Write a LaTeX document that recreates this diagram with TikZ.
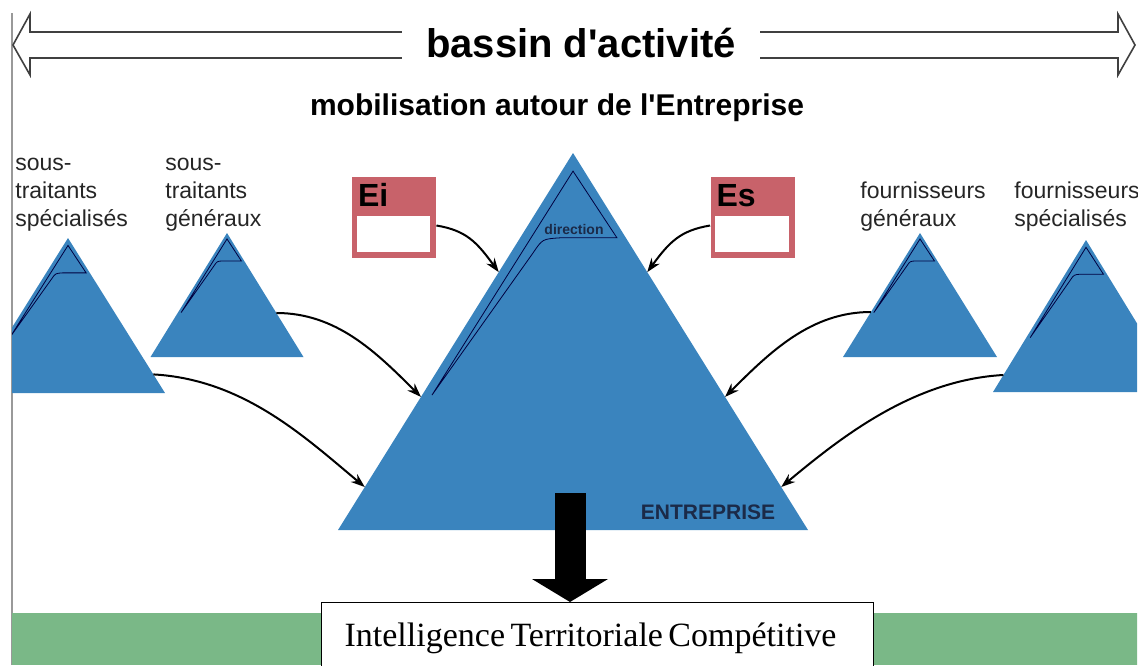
\documentclass[tikz,border=0pt]{standalone}
\usepackage{fontspec}
\setmainfont{Liberation Sans}
\newfontfamily\timesfont{Liberation Serif}
\usetikzlibrary{arrows.meta,calc}

\definecolor{pyrblue}{RGB}{58,132,190}
\definecolor{eired}{RGB}{200,98,106}
\definecolor{vert}{RGB}{122,184,135}
\definecolor{marine}{RGB}{27,42,72}

\tikzset{
  pyr/.style={fill=pyrblue},
  dirline/.style={draw=black!75!blue, line width=0.4pt},
  lien/.style={line width=1pt, -{Stealth[length=7pt,width=5pt]}},
  ebox/.style={fill=eired, minimum width=42pt, minimum height=40.5pt, inner sep=0pt},
  etxt/.style={font=\fontsize{16}{18}\selectfont\bfseries, inner sep=0pt},
  lbl/.style={font=\fontsize{11.5}{14}\selectfont, text=black!85, align=left, inner sep=0pt, anchor=base west},
  bassin/.style={draw=black!75, line width=0.8pt},
}

% pyramide: name, apex x, apex y, half width, height
\newcommand\pyramide[5]{%
  \coordinate (#1-top) at (#2,#3);
  \coordinate (#1-left) at ({#2-#4},{#3+#5});
  \coordinate (#1-right) at ({#2+#4},{#3+#5});
  \fill[pyr] (#1-top) -- (#1-right) -- (#1-left) -- cycle;
  \begin{scope}[shift={(#1-top)}, x={(#4*0.5pt,0pt)}, y={(0pt,-#5*0.5pt)}]
    \draw[dirline] (0,0.048) -- (-0.6,0.642) -- (-0.17,0.265)
      .. controls (-0.13,0.228) .. (-0.055,0.225) -- (0.187,0.225) -- cycle;
  \end{scope}
}

\begin{document}
\begin{tikzpicture}[x=0.5pt,y=-0.5pt]
  \useasboundingbox (0,0) rectangle (1138,665);
  \draw[black!40, line width=0.6pt] (12,13) -- (12,665);

  % bassin d'activite
  \node[font=\fontsize{20}{23}\selectfont\bfseries, inner xsep=12pt, anchor=base] (bassin) at (581,57) {bassin d\textquotesingle activité};
  \draw[bassin] (bassin.west |- 0,32) -- (30,32) -- (30,14) -- (13,45) -- (30,75) -- (30,58) -- (bassin.west |- 0,58);
  \draw[bassin] (bassin.east |- 0,32) -- (1118,32) -- (1118,14) -- (1135,45) -- (1118,75) -- (1118,58) -- (bassin.east |- 0,58);
  \node[font=\fontsize{15}{18}\selectfont\bfseries, anchor=base] (mobil) at (557,115) {mobilisation autour de l\textquotesingle Entreprise};

  \begin{scope}
    \clip (12,0) rectangle (1137,665);
    \fill[vert] (0,613) rectangle (1138,665);
    \pyramide{stspe}{68}{238}{97}{155}
    \pyramide{stgen}{227}{233}{76.5}{124}
    \pyramide{fogen}{920}{233}{77}{124}
    \pyramide{fospe}{1086}{240}{93}{152}
    \pyramide{ent}{573}{153}{235}{377}
    \node[draw, fill=white, line width=0.6pt, anchor=north west, text width=253pt, align=left,
      inner xsep=11.5pt, minimum height=36pt, font=\timesfont\fontsize{17}{19}\selectfont] (itc) at (321,602)
      {\spaceskip=0.16em\relax Intelligence Territoriale Compétitive};
  \end{scope}

  \node[font=\fontsize{7}{8}\selectfont\bfseries, text=marine, inner sep=0pt] (dir) at (574,229) {direction};
  \node[font=\fontsize{10.5}{12}\selectfont\bfseries, text=marine] (entlbl) at (708,512) {ENTREPRISE};

  % labels
  \node[lbl] (lstspe) at (15,226) {sous-\\traitants\\spécialisés};
  \node[lbl] (lstgen) at (165,226) {sous-\\traitants\\généraux};
  \node[lbl] (lfogen) at (860,226) {fournisseurs\\généraux};
  \node[lbl] (lfospe) at (1014,226) {fournisseurs\\spécialisés};

  % Ei / Es
  \node[ebox] (ei) at (394,217.5) {};
  \fill[white] ($(ei.south west)+(5,-6)$) rectangle ($(ei.south east)+(-6,-42)$);
  \node[etxt, anchor=base west] (eitxt) at ($(ei.north west)+(6,30)$) {Ei};
  \node[ebox] (es) at (752.5,217.5) {};
  \fill[white] ($(es.south west)+(5,-6)$) rectangle ($(es.south east)+(-6,-42)$);
  \node[etxt, anchor=base west] (estxt) at ($(es.north west)+(6,30)$) {Es};

  % liens
  \draw[lien] ([yshift=-4pt]ei.east) .. controls +(30,5) and +(-22,-30) .. ($(ent-top)!0.316!(ent-left)$);
  \draw[lien] ([yshift=-4pt]es.west) .. controls +(-30,5) and +(22,-30) .. ($(ent-top)!0.316!(ent-right)$);
  \draw[lien] ($(stgen-top)!0.645!(stgen-right)$) .. controls +(60,0) and +(-45,-45) .. ($(ent-top)!0.647!(ent-left)$);
  \draw[lien] ($(stspe-top)!0.88!(stspe-right)$) .. controls +(90,5) and +(-60,-50) .. ($(ent-top)!0.886!(ent-left)$);
  \draw[lien] ($(fogen-top)!0.637!(fogen-left)$) .. controls +(-60,0) and +(45,-45) .. ($(ent-top)!0.647!(ent-right)$);
  \draw[lien] ($(fospe-top)!0.888!(fospe-left)$) .. controls +(-90,5) and +(60,-50) .. ($(ent-top)!0.886!(ent-right)$);

  % vers l'intelligence territoriale
  \coordinate (pied) at (570,493);
  \draw[line width=15.5pt, -{Triangle[length=11.5pt 0,width=37.5pt 0]}] (pied) -- (pied |- itc.north);
\end{tikzpicture}
\end{document}
